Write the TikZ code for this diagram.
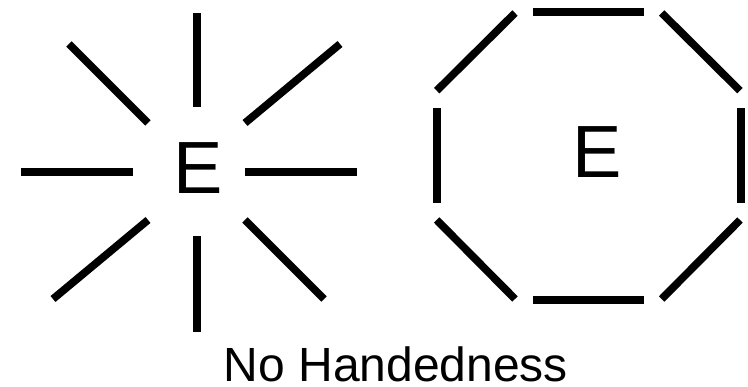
\documentclass[tikz,border=0pt]{standalone}
\usepackage{fontspec}
\setmainfont{Liberation Sans}
\begin{document}
\begin{tikzpicture}[x=1pt,y=-1pt,
  seg/.style={line width=7.7pt,line cap=butt,black},
  bigE/.style={font=\fontsize{74}{80}\selectfont,inner sep=0pt,anchor=base},
  caption/.style={font=\fontsize{48}{50}\selectfont,inner sep=0pt,text depth=0pt,anchor=base}]
\useasboundingbox (0,0) rectangle (748,387);
% left star
\node[bigE] (e1) at (198,193.3) {E};
\coordinate (s1a) at (197,12.7);  \coordinate (s1b) at (197,107);
\coordinate (s2a) at (69,44);     \coordinate (s2b) at (148,123);
\coordinate (s3a) at (340,44);    \coordinate (s3b) at (245,123);
\coordinate (s4a) at (21,172);    \coordinate (s4b) at (133,172);
\coordinate (s5a) at (245,172);   \coordinate (s5b) at (357,172);
\coordinate (s6a) at (148,220);   \coordinate (s6b) at (53,299);
\coordinate (s7a) at (245,220);   \coordinate (s7b) at (324,299);
\coordinate (s8a) at (197,236);   \coordinate (s8b) at (197,332);
\foreach \i in {1,...,8} {\draw[seg] (s\i a) -- (s\i b);}
% right octagon
\node[bigE] (e2) at (597,177.7) {E};
\coordinate (o1a) at (532.7,12);  \coordinate (o1b) at (644.3,12);
\coordinate (o2a) at (661.7,13);  \coordinate (o2b) at (740,90.7);
\coordinate (o3a) at (740.7,108); \coordinate (o3b) at (740.7,203);
\coordinate (o4a) at (740,220);   \coordinate (o4b) at (661.7,299);
\coordinate (o5a) at (644.3,300); \coordinate (o5b) at (532.7,300);
\coordinate (o6a) at (515,299);   \coordinate (o6b) at (436.7,220);
\coordinate (o7a) at (436.7,203); \coordinate (o7b) at (436.7,108);
\coordinate (o8a) at (436.7,90.7);\coordinate (o8b) at (515,13);
\foreach \i in {1,...,8} {\draw[seg] (o\i a) -- (o\i b);}
% caption
\node[caption] (cap) at (396,381.7) {No Handedness};
\end{tikzpicture}
\end{document}
